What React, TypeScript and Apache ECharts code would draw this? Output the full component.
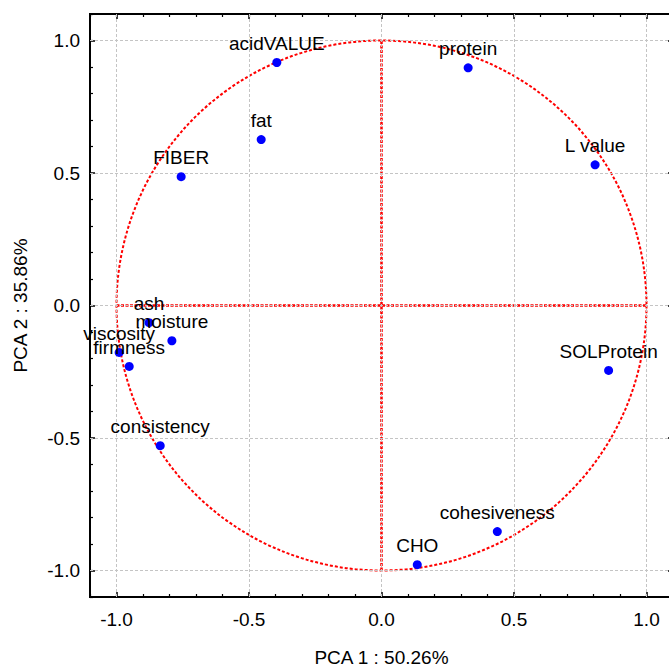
import React, { useEffect, useRef } from "react";
import * as echarts from "echarts";

// ---- data ----
const variables = [
  "acidVALUE", "protein", "fat", "FIBER", "L value", "ash", "moisture",
  "viscosity", "firmness", "consistency", "SOLProtein", "cohesiveness", "CHO",
];
const pca1 = [-0.395, 0.327, -0.454, -0.756, 0.806, -0.877, -0.791, -0.99, -0.952, -0.835, 0.857, 0.437, 0.135];
const pca2 = [0.917, 0.897, 0.626, 0.486, 0.531, -0.065, -0.133, -0.177, -0.23, -0.529, -0.245, -0.853, -0.978];
const majorTicks = [-1.0, -0.5, 0.0, 0.5, 1.0];
const axisMin = -1.1;
const axisMax = 1.1;
const circleRadius = 1;
const hLine = [[-1, 0], [1, 0]];
const vLine = [[0, -1], [0, 1]];
const xTitle = "PCA 1 : 50.26%";
const yTitle = "PCA 2 : 35.86%";

const FONT = "'Liberation Sans', Arial, Helvetica, sans-serif";

export default function App() {
  const ref = useRef<HTMLDivElement>(null);

  useEffect(() => {
    if (!ref.current) return;
    const chart = echarts.init(ref.current, undefined, { renderer: "svg" });

    const GL = 90, GT = 14, GS = 583;
    const unit = GS / (axisMax - axisMin);
    const pad = (-1 - axisMin) * unit;
    const innerSize = 2 * unit;

    const minorAxisCommon = {
      type: "value" as const,
      min: axisMin,
      max: axisMax,
      interval: 0.1,
      axisLine: { show: false, onZero: false },
      axisTick: { show: true, inside: true, length: 3, lineStyle: { color: "#000", width: 1.2 } },
      axisLabel: { show: false },
      splitLine: { show: false },
    };

    const majorAxisCommon = {
      type: "value" as const,
      min: -1,
      max: 1,
      interval: 0.5,
      offset: pad,
      axisLine: { show: false, onZero: false },
      axisTick: { show: true, inside: true, length: 5, lineStyle: { color: "#000", width: 1.5 } },
      splitLine: { show: false },
    };

    const labelStyle = {
      color: "#000",
      fontFamily: FONT,
      fontSize: 19,
      formatter: (v: number) => v.toFixed(1),
    };

    const option: any = {
      animation: false,
      backgroundColor: "#fff",
      grid: [
        {
          left: GL, top: GT, width: GS, height: GS,
          outerBoundsMode: "none", containLabel: false,
          show: true, borderColor: "#000", borderWidth: 2, backgroundColor: "transparent",
        },
        {
          left: GL + pad, top: GT + pad, width: innerSize, height: innerSize,
          outerBoundsMode: "none", containLabel: false,
        },
      ],
      xAxis: [
        {
          ...minorAxisCommon, gridIndex: 0, position: "bottom",
          name: xTitle, nameLocation: "middle", nameGap: 51,
          nameTextStyle: { color: "#000", fontFamily: FONT, fontSize: 19 },
        },
        { ...minorAxisCommon, gridIndex: 0, position: "top" },
        {
          ...majorAxisCommon, gridIndex: 1, position: "bottom",
          axisLabel: { ...labelStyle, show: true, margin: 13 },
        },
        { ...majorAxisCommon, gridIndex: 1, position: "top", axisLabel: { show: false } },
      ],
      yAxis: [
        {
          ...minorAxisCommon, gridIndex: 0, position: "left",
          name: yTitle, nameLocation: "middle", nameGap: 60, nameRotate: 90,
          nameTextStyle: { color: "#000", fontFamily: FONT, fontSize: 19 },
        },
        { ...minorAxisCommon, gridIndex: 0, position: "right" },
        {
          ...majorAxisCommon, gridIndex: 1, position: "left",
          axisLabel: { ...labelStyle, show: true, margin: 10 },
        },
        { ...majorAxisCommon, gridIndex: 1, position: "right", axisLabel: { show: false } },
      ],
      series: [
        {
          type: "line",
          xAxisIndex: 0, yAxisIndex: 0,
          data: [],
          z: 1,
          silent: true,
          markLine: {
            silent: true,
            symbol: "none",
            label: { show: false },
            lineStyle: { color: "#c4c4c4", type: [3, 2], width: 1 },
            data: [
              ...majorTicks.map((v) => ({ xAxis: v })),
              ...majorTicks.map((v) => ({ yAxis: v })),
            ],
          },
        },
        {
          type: "line",
          xAxisIndex: 0, yAxisIndex: 0,
          data: hLine,
          symbol: "none",
          z: 2,
          silent: true,
          lineStyle: { color: "#ff0000", width: 2.5, type: [3, 1.5] },
        },
        {
          type: "line",
          xAxisIndex: 0, yAxisIndex: 0,
          data: vLine,
          symbol: "none",
          z: 2,
          silent: true,
          lineStyle: { color: "#ff0000", width: 2.5, type: [3, 1.5] },
        },
        {
          type: "custom",
          xAxisIndex: 0, yAxisIndex: 0,
          data: [[0, 0]],
          z: 3,
          silent: true,
          renderItem: (params: any, api: any) => {
            const c = api.coord([api.value(0), api.value(1)]);
            const s = api.size([circleRadius, circleRadius]);
            return {
              type: "circle",
              shape: { cx: c[0], cy: c[1], r: s[0] },
              style: { fill: "none", stroke: "#ff0000", lineWidth: 2, lineDash: [3, 2] },
            };
          },
        },
        {
          type: "scatter",
          xAxisIndex: 0, yAxisIndex: 0,
          z: 5,
          symbol: "circle",
          symbolSize: 9,
          itemStyle: { color: "#0000ff", opacity: 1 },
          data: variables.map((n, i) => ({ name: n, value: [pca1[i], pca2[i]] })),
          label: {
            show: true,
            position: "top",
            distance: 5,
            formatter: (p: any) => p.name,
            color: "#000",
            fontFamily: FONT,
            fontSize: 19,
          },
        },
        {
          type: "scatter",
          xAxisIndex: 2, yAxisIndex: 2,
          data: [],
        },
      ],
    };

    chart.setOption(option);
    return () => chart.dispose();
  }, []);

  return (
    <div
      ref={ref}
      style={{ position: "fixed", left: 0, top: 0, width: 669, height: 667, background: "#fff" }}
    />
  );
}
